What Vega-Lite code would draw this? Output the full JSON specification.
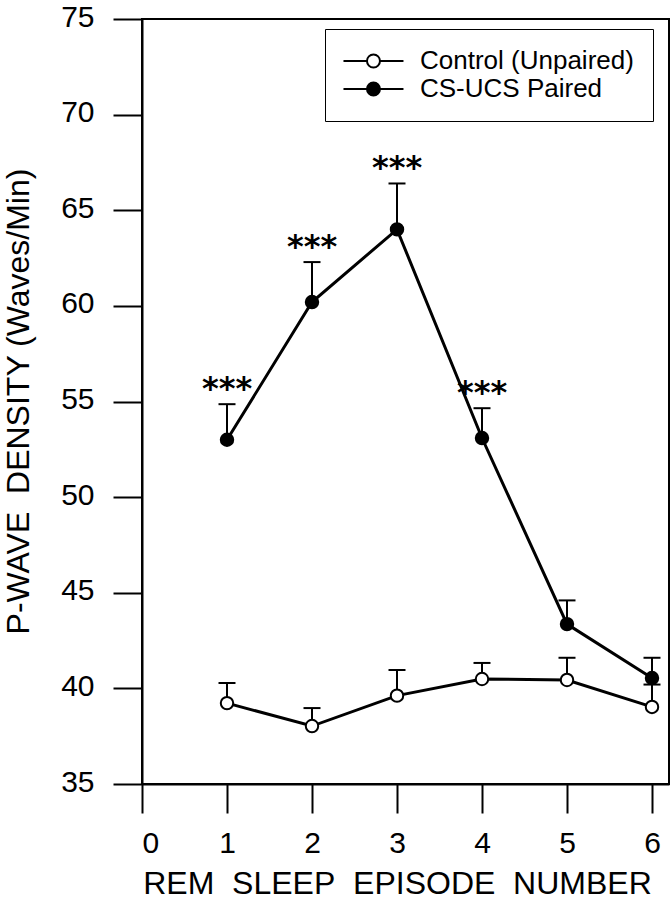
{
  "$schema": "https://vega.github.io/schema/vega-lite/v6.json",
  "width": 527,
  "height": 765,
  "autosize": {"type": "none"},
  "padding": {"left": 142, "top": 19, "right": 3, "bottom": 115},
  "background": "white",
  "config": {
    "view": {"stroke": "black", "strokeWidth": 2},
    "font": "Liberation Sans",
    "axis": {
      "domainColor": "black", "domainWidth": 2,
      "tickColor": "black", "tickWidth": 2, "tickSize": 29,
      "labelColor": "black", "labelFont": "Liberation Sans", "labelFontSize": 30,
      "grid": false,
      "titleFont": "Liberation Sans", "titleFontWeight": "normal", "titleColor": "black", "titleFontSize": 32
    }
  },
  "data": {
    "values": [
      {"series": "Control (Unpaired)", "episode": 1, "mean": 39.23, "upper": 40.28, "sig": ""},
      {"series": "Control (Unpaired)", "episode": 2, "mean": 38.03, "upper": 38.97, "sig": ""},
      {"series": "Control (Unpaired)", "episode": 3, "mean": 39.62, "upper": 40.96, "sig": ""},
      {"series": "Control (Unpaired)", "episode": 4, "mean": 40.49, "upper": 41.33, "sig": ""},
      {"series": "Control (Unpaired)", "episode": 5, "mean": 40.44, "upper": 41.6, "sig": ""},
      {"series": "Control (Unpaired)", "episode": 6, "mean": 39.03, "upper": 40.2, "sig": ""},
      {"series": "CS-UCS Paired", "episode": 1, "mean": 53.0, "upper": 54.86, "sig": "***"},
      {"series": "CS-UCS Paired", "episode": 2, "mean": 60.2, "upper": 62.29, "sig": "***"},
      {"series": "CS-UCS Paired", "episode": 3, "mean": 64.0, "upper": 66.4, "sig": "***"},
      {"series": "CS-UCS Paired", "episode": 4, "mean": 53.09, "upper": 54.65, "sig": "***"},
      {"series": "CS-UCS Paired", "episode": 5, "mean": 43.36, "upper": 44.6, "sig": ""},
      {"series": "CS-UCS Paired", "episode": 6, "mean": 40.54, "upper": 41.6, "sig": ""}
    ]
  },
  "encoding": {
    "x": {
      "field": "episode", "type": "quantitative",
      "scale": {"domain": [0, 6.2], "nice": false, "zero": false},
      "axis": {
        "values": [0, 1, 2, 3, 4, 5, 6],
        "title": "REM\u00a0 SLEEP\u00a0 EPISODE\u00a0 NUMBER",
        "labelPadding": 15,
        "titleX": 255, "titleY": 109, "titleBaseline": "alphabetic", "titleAlign": "center"
      }
    },
    "y": {
      "field": "mean", "type": "quantitative",
      "scale": {"domain": [35, 75], "nice": false, "zero": false},
      "axis": {
        "values": [35, 40, 45, 50, 55, 60, 65, 70, 75],
        "title": "P-WAVE\u00a0 DENSITY (Waves/Min)",
        "labelPadding": 19, "labelOffset": -2,
        "titleX": -114, "titleY": 382, "titleAngle": 270, "titleBaseline": "alphabetic", "titleAlign": "center"
      }
    }
  },
  "layer": [
    {
      "mark": {"type": "line", "color": "black", "strokeWidth": 3},
      "encoding": {"detail": {"field": "series"}}
    },
    {
      "mark": {"type": "rule", "color": "black", "strokeWidth": 2},
      "encoding": {"y2": {"field": "upper"}}
    },
    {
      "mark": {"type": "tick", "orient": "horizontal", "color": "black", "thickness": 2, "size": 17, "opacity": 1},
      "encoding": {"y": {"field": "upper", "type": "quantitative"}}
    },
    {
      "mark": {"type": "point", "filled": true, "stroke": "black", "strokeWidth": 2, "size": 155, "opacity": 1},
      "encoding": {
        "fill": {
          "field": "series", "type": "nominal",
          "scale": {"domain": ["Control (Unpaired)", "CS-UCS Paired"], "range": ["white", "black"]},
          "legend": {
            "title": null, "orient": "none", "legendX": 183, "legendY": 10,
            "symbolType": "M-2.08,0H1.535M3.535,0H7.15M3.535,0A1,1 0 1,1 1.535,0A1,1 0 1,1 3.535,0Z",
            "symbolSize": 169, "symbolStrokeColor": "black", "symbolStrokeWidth": 2,
            "labelFontSize": 26, "labelFont": "Liberation Sans", "labelColor": "black",
            "labelOffset": 50, "labelLimit": 0, "labelBaseline": "middle",
            "padding": 19, "rowPadding": 2, "strokeColor": "black",
            "encode": {"legend": {"update": {"strokeWidth": {"value": 2}}}}
          }
        }
      }
    },
    {
      "transform": [{"filter": "datum.sig != ''"}],
      "mark": {"type": "text", "font": "DejaVu Sans", "fontSize": 32, "fontWeight": "bold", "dy": -5, "baseline": "alphabetic", "align": "center", "color": "black"},
      "encoding": {"y": {"field": "upper", "type": "quantitative"}, "text": {"field": "sig"}}
    }
  ]
}
